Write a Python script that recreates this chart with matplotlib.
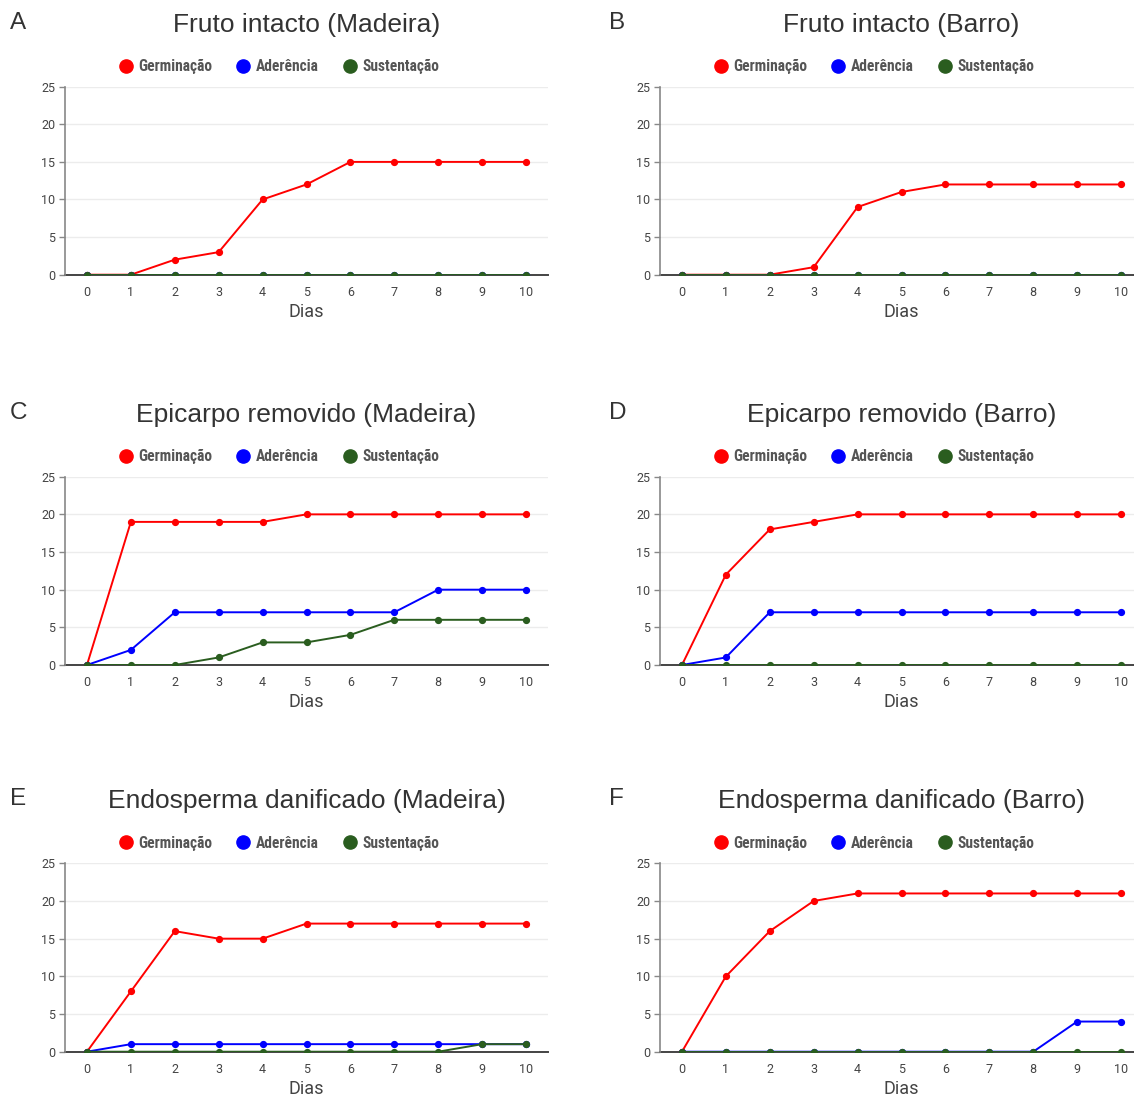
import matplotlib
matplotlib.use("Agg")
import matplotlib.pyplot as plt
from matplotlib.lines import Line2D

# --- Data ---
DAYS = list(range(11))

A_GERM = [0, 0, 2, 3, 10, 12, 15, 15, 15, 15, 15]
A_ADER = [0] * 11
A_SUST = [0] * 11

B_GERM = [0, 0, 0, 1, 9, 11, 12, 12, 12, 12, 12]
B_ADER = [0] * 11
B_SUST = [0] * 11

C_GERM = [0, 19, 19, 19, 19, 20, 20, 20, 20, 20, 20]
C_ADER = [0, 2, 7, 7, 7, 7, 7, 7, 10, 10, 10]
C_SUST = [0, 0, 0, 1, 3, 3, 4, 6, 6, 6, 6]

D_GERM = [0, 12, 18, 19, 20, 20, 20, 20, 20, 20, 20]
D_ADER = [0, 1, 7, 7, 7, 7, 7, 7, 7, 7, 7]
D_SUST = [0] * 11

E_GERM = [0, 8, 16, 15, 15, 17, 17, 17, 17, 17, 17]
E_ADER = [0, 1, 1, 1, 1, 1, 1, 1, 1, 1, 1]
E_SUST = [0, 0, 0, 0, 0, 0, 0, 0, 0, 1, 1]

F_GERM = [0, 10, 16, 20, 21, 21, 21, 21, 21, 21, 21]
F_ADER = [0, 0, 0, 0, 0, 0, 0, 0, 0, 4, 4]
F_SUST = [0] * 11

TITLES = [
    "Fruto intacto (Madeira)", "Fruto intacto (Barro)",
    "Epicarpo removido (Madeira)", "Epicarpo removido (Barro)",
    "Endosperma danificado (Madeira)", "Endosperma danificado (Barro)",
]
LETTERS = ["A", "B", "C", "D", "E", "F"]
SERIES_NAMES = ["Germinação", "Aderência", "Sustentação"]
PANELS = [
    (A_GERM, A_ADER, A_SUST), (B_GERM, B_ADER, B_SUST),
    (C_GERM, C_ADER, C_SUST), (D_GERM, D_ADER, D_SUST),
    (E_GERM, E_ADER, E_SUST), (F_GERM, F_ADER, F_SUST),
]

COLORS = ["#ff0000", "#0000ff", "#2a5d1f"]

W, H = 1134, 1103
plt.rcParams["font.family"] = ["Roboto", "DejaVu Sans"]

fig = plt.figure(figsize=(W / 100, H / 100), dpi=100)


def fx(px):
    return px / W


def fy(py):
    return 1 - py / H


# axes boxes in pixels: left, top(25), bottom(0)
LEFTS = [65, 660]
ROWS = [(86.7, 274.7), (476.7, 665.0), (863.3, 1051.7)]
AX_W = 483

legend_font = {"family": ["Roboto Condensed", "Roboto", "DejaVu Sans"],
               "weight": "bold", "size": 11.2}
title_font = ["Liberation Sans", "DejaVu Sans"]

for i, (series, title, letter) in enumerate(zip(PANELS, TITLES, LETTERS)):
    col, row = i % 2, i // 2
    left = LEFTS[col]
    top, bot = ROWS[row]
    ax = fig.add_axes([fx(left), fy(bot), AX_W / W, (bot - top) / H])

    for values, color, name in zip(series, COLORS, SERIES_NAMES):
        ax.plot(DAYS, values, color=color, lw=1.4, marker="o", ms=4.2,
                label=name, zorder=3)

    ax.set_xlim(-0.5, 10.5)
    ax.set_ylim(0, 25)
    ax.set_xticks(DAYS)
    ax.set_yticks([0, 5, 10, 15, 20, 25])
    ax.tick_params(axis="x", length=0, pad=8, labelsize=9, labelcolor="#444")
    ax.tick_params(axis="y", length=4, width=1, color="#888", pad=3,
                   labelsize=9, labelcolor="#444")
    ax.grid(axis="y", color="#ececec", lw=1)
    ax.set_axisbelow(True)
    for s in ["top", "right"]:
        ax.spines[s].set_visible(False)
    ax.spines["left"].set_color("#888")
    ax.spines["left"].set_linewidth(1.2)
    ax.spines["bottom"].set_color("#444")
    ax.spines["bottom"].set_linewidth(1.4)
    ax.spines["bottom"].set_zorder(2)

    ax.set_xlabel("Dias", fontsize=13, color="#444", labelpad=3)

    cx = left + AX_W / 2
    fig.text(fx(cx), fy(top - 62), title, ha="center", va="center",
             fontsize=19, color="#333", family=title_font)
    fig.text(fx(left - 55 if col == 0 else left - 51), fy(top - 64), letter,
             ha="left", va="center", fontsize=17.5, color="#333",
             family=title_font)

    handles = [Line2D([], [], ls="none", marker="o", ms=9.5, color=c)
               for c in COLORS]
    ax.legend(handles, SERIES_NAMES, loc="center",
              bbox_to_anchor=(fx(cx - 28), fy(top - 20)),
              bbox_transform=fig.transFigure, ncol=3, frameon=False,
              prop=legend_font, handletextpad=0.3, columnspacing=1.5,
              handlelength=1.0, labelcolor="#555")

fig.savefig("out.png", dpi=100)
